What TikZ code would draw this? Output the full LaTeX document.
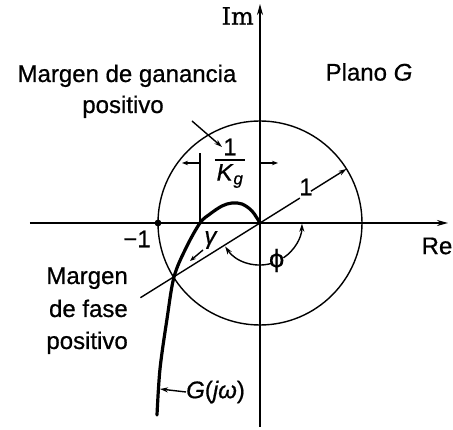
\documentclass[tikz,border=0pt]{standalone}
\usepackage{fontspec}
\setmainfont{Liberation Sans}[UprightFeatures={FakeBold=0.7}, ItalicFeatures={FakeBold=0.7}]
\newfontfamily\imfont{DejaVu Serif}[FakeBold=0.7]
\newfontfamily\dvs{DejaVu Sans}[FakeBold=0.7]
\usetikzlibrary{arrows.meta}
\begin{document}
\begin{tikzpicture}[x=1pt,y=1pt,
  lbl/.style={font=\fontsize{24}{28}\selectfont, inner sep=0pt},
  thinl/.style={line width=1.4pt},
  axis/.style={line width=1.6pt, -{Stealth[length=11pt,width=6pt]}},
  tip/.style={-{Stealth[length=8pt,width=5pt]}},
  smalltip/.style={-{Stealth[length=6pt,width=4.5pt]}},
  curve/.style={line width=3.2pt, line cap=round}]
\useasboundingbox (-260,-207) rectangle (193,223);
% axes
\coordinate (O) at (0,0);
\coordinate (xl) at (-230,0);
\coordinate (xr) at (188,0);
\coordinate (yb) at (0,-204);
\coordinate (yt) at (0,219);
\draw[axis] (xl) -- (xr);
\draw[axis] (yb) -- (yt);
\node[lbl, anchor=east] (im) at (-6,207) {\imfont Im};
\node[lbl] (re) at (177,-23) {Re};
% unit circle
\draw[line width=1.4pt] (O) circle[radius=102];
\fill (-102,0) circle[radius=3.4];
\node[lbl] (m1) at (-123,-16) {−1};
% Nyquist curve
\draw[curve] plot[smooth, tension=0.55] coordinates {(-103,-192) (-100,-146) (-93,-96) (-86,-54) (-74,-25) (-60,0) (-50,9) (-38,17) (-28,20) (-18,19) (-8,12) (0,0)};
% phase line and radius 1
\coordinate (pl) at (212:141);
\coordinate (pu) at (32:47);
\draw[thinl] (pl) -- (pu);
\node[lbl] (one) at (46,36) {1};
\coordinate (ra) at (32:60);
\coordinate (rb) at (32:102);
\draw[thinl, tip] (ra) -- (rb);
% gamma
\node[lbl] (gam) at (-49,-17) {\textit{γ}};
\coordinate (ga) at (-57,-27);
\coordinate (gb) at (-70,-38);
\draw[thinl, smalltip] (ga) -- (gb);
% phi
\node[lbl] (phi) at (294:41) {\dvs ϕ};
\draw[thinl, tip] (285:42) arc[start angle=285, end angle=214, radius=42];
\draw[thinl, tip] (304:42) arc[start angle=304, end angle=359, radius=42];
% gain margin dimension
\coordinate (eb) at (-60,0);
\coordinate (et) at (-60,70);
\draw[thinl] (eb) -- (et);
\coordinate (dl0) at (-60,60);
\coordinate (dl1) at (-78,60);
\coordinate (dr0) at (0,60);
\coordinate (dr1) at (18,60);
\draw[thinl, smalltip] (dl0) -- (dl1);
\draw[thinl, smalltip] (dr0) -- (dr1);
\node[lbl] (num) at (-30,76) {1};
\coordinate (bl) at (-45,63);
\coordinate (br) at (-15,63);
\draw[line width=1.6pt] (bl) -- (br);
\node[lbl] (den) at (-30,47) {\textit{K}\textsubscript{\textit{g}}};
\coordinate (ka) at (-68,102);
\coordinate (kb) at (-38,76);
\draw[thinl, tip] (ka) -- (kb);
% texts
\node[lbl] (plano) at (109,151) {Plano \textit{G}};
\node[lbl, anchor=base] (mg1) at (-133,141) {Margen de ganancia};
\node[lbl, anchor=base] (mg2) at (-137,110) {positivo};
\node[lbl, anchor=base east] (mf1) at (-132,-61) {Margen};
\node[lbl, anchor=base east] (mf2) at (-132,-94) {de fase};
\node[lbl, anchor=base east] (mf3) at (-132,-126) {positivo};
% G(jw)
\node[lbl, anchor=west] (gj) at (-74,-169) {\textit{G}(\textit{jω})};
\coordinate (gc) at (-100,-166);
\draw[thinl, tip] (gj.west) -- (gc);
\end{tikzpicture}
\end{document}
